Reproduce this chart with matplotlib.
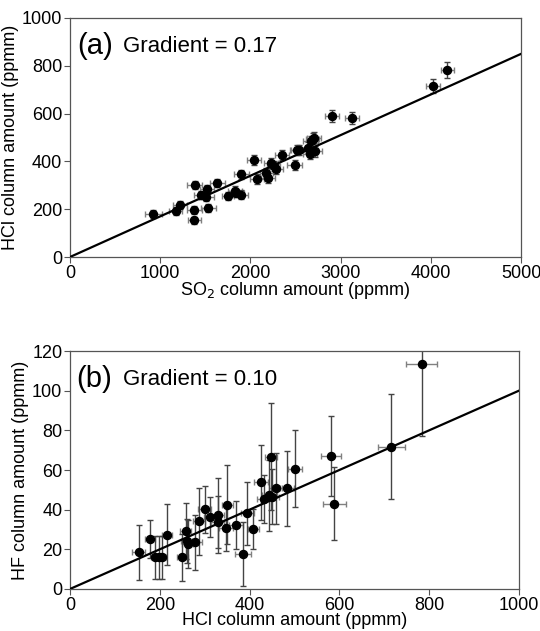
import numpy as np
import matplotlib
matplotlib.use("Agg")
import matplotlib.pyplot as plt

plt.rcParams['font.family'] = ['Liberation Sans', 'DejaVu Sans']

# panel (a): SO2 vs HCl
so2 = [924, 1172, 1220, 1379, 1379, 1383, 1453, 1512, 1520, 1535, 1635, 1753,
       1827, 1845, 1897, 1901, 2041, 2071, 2178, 2197, 2230, 2256, 2282, 2348,
       2489, 2511, 2533, 2637, 2659, 2666, 2688, 2703, 2718, 2903, 3128, 4023, 4182]
hcl_a = [179, 193, 218, 198, 153, 301, 259, 250, 285, 204, 310, 257,
         278, 268, 261, 346, 407, 326, 353, 331, 393, 379, 370, 425,
         385, 448, 448, 458, 432, 485, 494, 499, 442, 589, 582, 716, 783]
so2_err = [92, 75, 80, 80, 75, 85, 80, 80, 80, 80, 85, 70,
           75, 80, 80, 85, 80, 75, 75, 80, 80, 75, 80, 80,
           85, 75, 80, 80, 75, 80, 75, 80, 80, 75, 75, 75, 70]
hcl_a_err = [17, 16, 16, 16, 16, 18, 17, 17, 17, 17, 18, 17,
             18, 18, 18, 20, 20, 20, 20, 20, 21, 21, 21, 21,
             22, 22, 22, 22, 22, 23, 23, 23, 23, 25, 25, 30, 34]
grad_a = 0.17

# panel (b): HCl vs HF
hcl_b = [153, 178, 190, 198, 204, 216, 250, 258, 260, 262, 279, 287,
         300, 311, 329, 329, 347, 350, 370, 386, 395, 408, 426, 432,
         444, 448, 450, 458, 484, 501, 582, 589, 716, 783]
hf = [18.5, 25.2, 15.9, 15.9, 15.9, 27.4, 15.9, 29.2, 24.2, 22.8, 23.5, 34.1,
      40.1, 36.4, 37.1, 33.9, 31.0, 42.5, 32.4, 17.6, 38.1, 30.4, 53.7, 45.5,
      47.2, 66.6, 46.6, 50.7, 50.8, 60.7, 67.1, 43.0, 71.7, 113.3]
hcl_b_err = [15, 12, 10, 10, 10, 12, 12, 12, 12, 12, 14, 14,
             14, 12, 14, 14, 16, 12, 16, 18, 14, 12, 16, 16,
             16, 14, 16, 14, 16, 16, 22, 25, 30, 34]
hf_err = [14, 9.5, 11, 11, 11, 15.5, 12, 14, 11, 12, 14, 17,
          12, 10, 19, 13, 12, 20, 12, 16, 16, 10, 19, 12,
          18, 27, 14, 18, 19, 19.5, 20, 18.5, 26.5, 36]
grad_b = 0.10

fig = plt.figure(figsize=(5.4, 6.31), dpi=100)
ax1 = fig.add_axes([0.1296, 0.5927, 0.8354, 0.3788])
ax2 = fig.add_axes([0.1296, 0.0666, 0.8314, 0.3771])


def panel(ax, x, y, xe, ye, grad, xmax, ymax, xticks, yticks, label, xlab, ylab):
    ax.errorbar(x, y, xerr=xe, fmt='none', ecolor='#808080', elinewidth=1,
                capsize=2, capthick=1, zorder=2)
    ax.errorbar(x, y, yerr=ye, fmt='none', ecolor='#444444', elinewidth=1,
                capsize=2, capthick=1, zorder=2)
    ax.plot(x, y, 'o', color='black', markersize=5.8, zorder=3)
    xs = np.array([0, xmax])
    ax.plot(xs, grad * xs, color='black', lw=1.6, zorder=4)
    ax.set_xlim(0, xmax)
    ax.set_ylim(0, ymax)
    ax.set_xticks(xticks)
    ax.set_yticks(yticks)
    ax.tick_params(direction='out', length=4.5, width=0.8, color='#555555',
                   labelsize=13, pad=1)
    for s in ax.spines.values():
        s.set_color('#555555')
        s.set_linewidth(0.9)
    ax.set_xlabel(xlab, fontsize=13, labelpad=-1)
    ax.set_ylabel(ylab, fontsize=13, labelpad=2)
    ax.text(0.015, 0.94, label, transform=ax.transAxes, fontsize=21, va='top', ha='left')
    ax.text(0.117, 0.925, 'Gradient = %.2f' % grad, transform=ax.transAxes,
            fontsize=16, va='top', ha='left')


panel(ax1, so2, hcl_a, so2_err, hcl_a_err, grad_a, 5000, 1000,
      [0, 1000, 2000, 3000, 4000, 5000], [0, 200, 400, 600, 800, 1000],
      '(a)', 'SO$_2$ column amount (ppmm)', 'HCl column amount (ppmm)')
panel(ax2, hcl_b, hf, hcl_b_err, hf_err, grad_b, 1000, 120,
      [0, 200, 400, 600, 800, 1000], [0, 20, 40, 60, 80, 100, 120],
      '(b)', 'HCl column amount (ppmm)', 'HF column amount (ppmm)')

fig.savefig('out.png', dpi=100)
